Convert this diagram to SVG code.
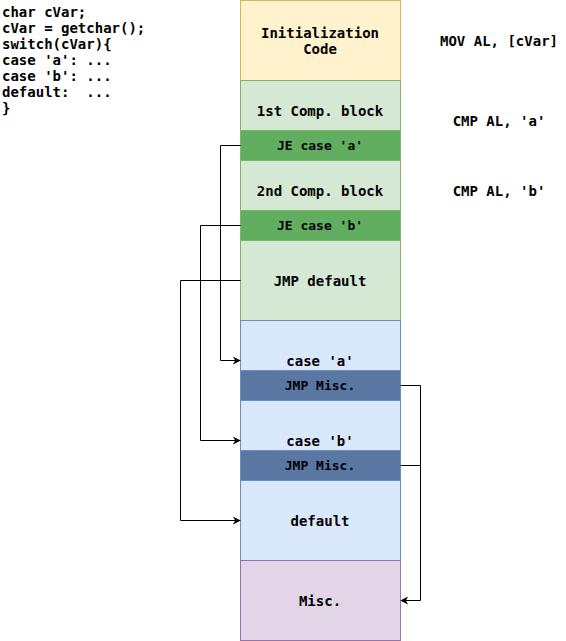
<svg xmlns="http://www.w3.org/2000/svg" width="566" height="641" viewBox="0 0 566 641">
<defs>
<style>
text{font-family:"DejaVu Sans Mono","Liberation Mono",monospace;font-weight:bold;font-size:14px;fill:#000;white-space:pre}
.c{text-anchor:middle}
.s{font-size:13px}
.y{fill:#fff2cc;stroke:#d6b656}
.g{fill:#d5e8d4;stroke:#82b366}
.dg{fill:#62ae61;stroke:#82b366}
.b{fill:#dae8fc;stroke:#6c8ebf}
.db{fill:#5a76a3;stroke:#6c8ebf}
.p{fill:#e1d5e7;stroke:#9673a6}
.ln{fill:none;stroke:#000;stroke-width:1}
</style>
<marker id="ar" viewBox="0 0 10 10" refX="9" refY="5" markerWidth="8" markerHeight="8" markerUnits="userSpaceOnUse" orient="auto"><path d="M0,0 L10,5 L0,10 L3,5 Z" fill="#000"/></marker>
</defs>
<g id="code">
<text x="2" y="17">char cVar;</text>
<text x="2" y="33">cVar = getchar();</text>
<text x="2" y="49">switch(cVar){</text>
<text x="2" y="65">case 'a': ...</text>
<text x="2" y="81">case 'b': ...</text>
<text x="2" y="97" xml:space="preserve">default:  ...</text>
<text x="2" y="113">}</text>
</g>
<g id="init"><rect class="y" x="240.5" y="0.5" width="160" height="80"/><text class="c" x="320" y="38">Initialization</text><text class="c" x="320" y="54">Code</text></g>
<g id="comp1"><rect class="g" x="240.5" y="80.5" width="160" height="50"/><text class="c" x="320" y="116">1st Comp. block</text></g>
<g id="jea"><rect class="dg" x="240.5" y="130.5" width="160" height="30"/><text class="c s" x="320" y="150">JE case 'a'</text></g>
<g id="comp2"><rect class="g" x="240.5" y="160.5" width="160" height="50"/><text class="c" x="320" y="196">2nd Comp. block</text></g>
<g id="jeb"><rect class="dg" x="240.5" y="210.5" width="160" height="30"/><text class="c s" x="320" y="230">JE case 'b'</text></g>
<g id="jmpdef"><rect class="g" x="240.5" y="240.5" width="160" height="80"/><text class="c" x="320" y="286">JMP default</text></g>
<g id="casea"><rect class="b" x="240.5" y="320.5" width="160" height="50"/><text class="c" x="320" y="366">case 'a'</text></g>
<g id="jmpm1"><rect class="db" x="240.5" y="370.5" width="160" height="30"/><text class="c s" x="320" y="390">JMP Misc.</text></g>
<g id="caseb"><rect class="b" x="240.5" y="400.5" width="160" height="50"/><text class="c" x="320" y="446">case 'b'</text></g>
<g id="jmpm2"><rect class="db" x="240.5" y="450.5" width="160" height="30"/><text class="c s" x="320" y="470">JMP Misc.</text></g>
<g id="default"><rect class="b" x="240.5" y="480.5" width="160" height="80"/><text class="c" x="320" y="526">default</text></g>
<g id="misc"><rect class="p" x="240.5" y="560.5" width="160" height="80"/><text class="c" x="320" y="606">Misc.</text></g>
<g id="asm">
<text class="c" x="499" y="46">MOV AL, [cVar]</text>
<text class="c" x="499" y="126">CMP AL, 'a'</text>
<text class="c" x="499" y="196">CMP AL, 'b'</text>
</g>
<g id="connectors">
<path class="ln" d="M240.5,145.5 H220.5 V360.5 H240" marker-end="url(#ar)"/>
<path class="ln" d="M240.5,225.5 H200.5 V440.5 H240" marker-end="url(#ar)"/>
<path class="ln" d="M240.5,280.5 H180.5 V520.5 H240" marker-end="url(#ar)"/>
<path class="ln" d="M400.5,385.5 H420.5 V600.5 H401" marker-end="url(#ar)"/>
<path class="ln" d="M400.5,465.5 H420.5"/>
</g>
</svg>
